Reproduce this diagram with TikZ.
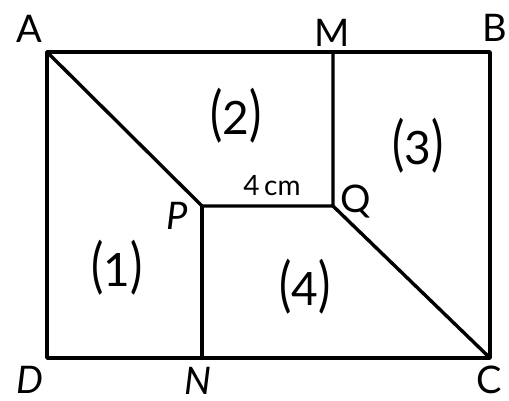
\documentclass[tikz,border=0pt]{standalone}
\usepackage{fontspec}
\setmainfont{Lato}
\begin{document}
\begin{tikzpicture}[x=1pt,y=-1pt,
  edge/.style={line width=3.4pt,line cap=round,line join=round},
  vlabel/.style={font=\fontsize{38}{40}\selectfont,inner sep=0pt},
  rlabel/.style={font=\fontsize{46}{52}\selectfont,inner sep=0pt},
  dim/.style={font=\fontsize{28}{30}\selectfont,inner sep=0pt}]
\useasboundingbox (0,0) rectangle (509,401);
\coordinate (A) at (47,52);
\coordinate (B) at (490,52);
\coordinate (C) at (490,358);
\coordinate (D) at (47,358);
\coordinate (M) at (333,52);
\coordinate (N) at (202,358);
\coordinate (P) at (202,206);
\coordinate (Q) at (333,206);
\draw[edge] (A) -- (B) -- (C) -- (D) -- cycle;
\draw[edge] (A) -- (P) -- (Q) -- (M);
\draw[edge] (P) -- (N);
\draw[edge] (Q) -- (C);
\node[vlabel] (lA) at (29,29) {A};
\node[vlabel] (lM) at (332,33) {M};
\node[vlabel] (lB) at (495,28) {B};
\node[vlabel] (lD) at (30,380) {\itshape D};
\node[vlabel] (lN) at (198,381) {\itshape N};
\node[vlabel] (lC) at (489,380) {C};
\node[vlabel] (lP) at (177,216) {\itshape P};
\node[vlabel] (lQ) at (356,202) {Q};
\node[dim] (l4) at (272,186) {4\,cm};
\node[rlabel] (r2) at (236,116) {\scalebox{1}[1.3]{(}2\scalebox{1}[1.3]{)}};
\node[rlabel] (r3) at (418,146) {\scalebox{1}[1.3]{(}3\scalebox{1}[1.3]{)}};
\node[rlabel] (r1) at (117,268) {\scalebox{1}[1.3]{(}1\scalebox{1}[1.3]{)}};
\node[rlabel] (r4) at (305,287) {\scalebox{1}[1.3]{(}4\scalebox{1}[1.3]{)}};
\end{tikzpicture}
\end{document}
